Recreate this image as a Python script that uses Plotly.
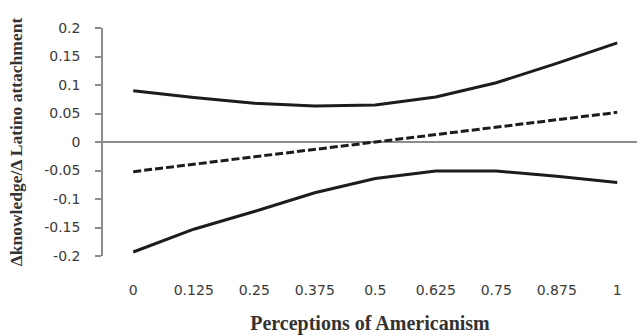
import plotly.graph_objects as go

# Perceptions of Americanism (x) and marginal effect with 95% bounds
americanism = [0, 0.125, 0.25, 0.375, 0.5, 0.625, 0.75, 0.875, 1]
tick_labels = ["0", "0.125", "0.25", "0.375", "0.5", "0.625", "0.75", "0.875", "1"]
upper_bound = [0.090, 0.078, 0.068, 0.063, 0.065, 0.079, 0.104, 0.138, 0.174]
marginal_effect = [-0.052, -0.039, -0.026, -0.013, 0.000, 0.013, 0.026, 0.039, 0.052]
lower_bound = [-0.193, -0.153, -0.122, -0.089, -0.064, -0.051, -0.051, -0.060, -0.071]

line_color = "#1c1c1c"
axis_color = "#8c8c8c"
text_color = "#3a3a3a"

fig = go.Figure()
fig.add_trace(go.Scatter(x=americanism, y=upper_bound, mode="lines",
                         line=dict(color=line_color, width=3)))
fig.add_trace(go.Scatter(x=americanism, y=marginal_effect, mode="lines",
                         line=dict(color=line_color, width=3, dash="8px,3px")))
fig.add_trace(go.Scatter(x=americanism, y=lower_bound, mode="lines",
                         line=dict(color=line_color, width=3)))

fig.update_layout(
    width=637, height=336,
    margin=dict(l=103, r=0, t=28, b=80),
    paper_bgcolor="white", plot_bgcolor="white",
    showlegend=False,
    xaxis=dict(
        range=[-0.0625, -0.0625 + 534 / 484],
        tickmode="array", tickvals=americanism, ticktext=tick_labels,
        showline=False, showgrid=False, zeroline=False, ticks="",
        tickfont=dict(family="DejaVu Sans", size=14, color=text_color),
        ticklabelstandoff=24,
        title=dict(text="<b>Perceptions of Americanism</b>",
                   font=dict(family="Liberation Serif", size=20, color="#333333"),
                   standoff=18),
    ),
    yaxis=dict(
        range=[-0.2, 0.2],
        tickmode="array",
        tickvals=[-0.2, -0.15, -0.1, -0.05, 0, 0.05, 0.1, 0.15, 0.2],
        ticktext=["-0.2", "-0.15", "-0.1", "-0.05", "0", "0.05", "0.1", "0.15", "0.2"],
        showline=True, linecolor=axis_color, linewidth=1.5,
        ticks="outside", ticklen=6, tickcolor=axis_color, tickwidth=1.5,
        showgrid=False,
        zeroline=True, zerolinecolor=axis_color, zerolinewidth=1.5,
        tickfont=dict(family="DejaVu Sans", size=14, color=text_color),
        ticklabelstandoff=12,
        title=dict(text="<b>Δknowledge/Δ Latino attachment</b>",
                   font=dict(family="Liberation Serif", size=17.5, color="#333333"),
                   standoff=17),
    ),
)

fig.write_html("out.html")
